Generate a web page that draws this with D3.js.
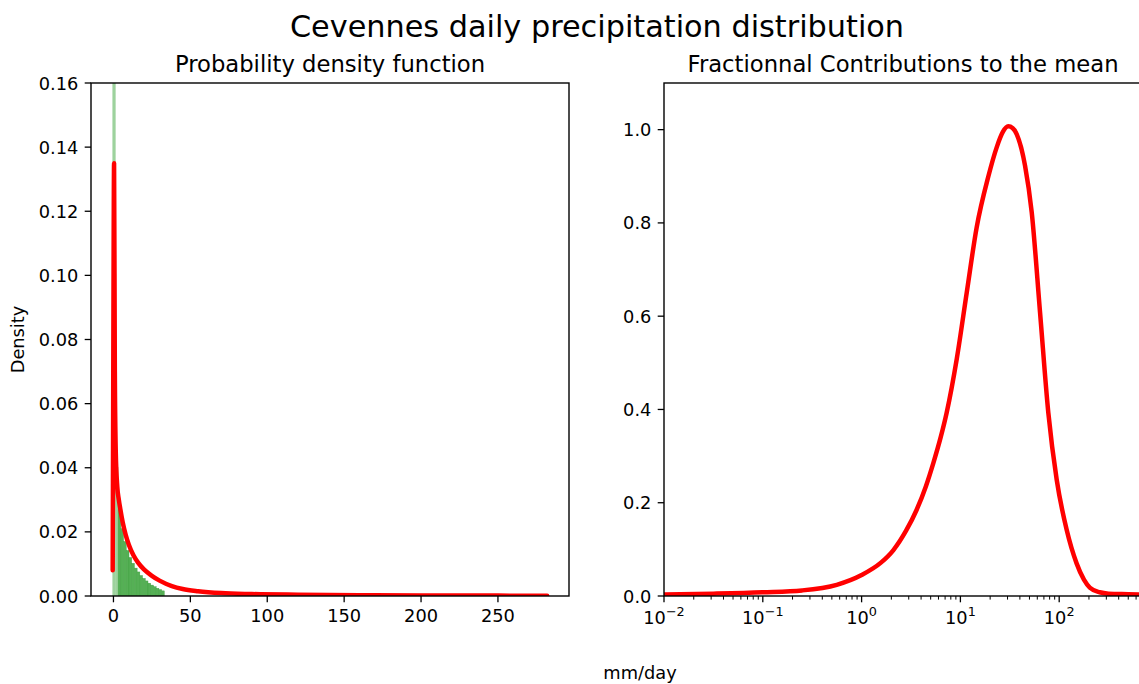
<!DOCTYPE html>
<html lang="en">
<head>
<meta charset="UTF-8">
<title>Cevennes daily precipitation distribution</title>
<script src="https://d3js.org/d3.v7.min.js"></script>
<style>
    body { margin: 0; background: #fff; }
    svg { font-family: "DejaVu Sans", sans-serif; display: block; }
</style>
</head>
<body>
<svg id="chart"></svg>
<script>
// ---- data ----
// histogram bins (mm/day edges) and densities
const histEdges = [-0.5, 1.27, 3.03, 4.8, 6.56, 8.33, 10.1, 11.86, 13.63, 15.4, 17.16, 18.93, 20.7,
                   22.46, 24.23, 26.0, 27.76, 29.53, 31.3, 33.06];
const histDensity = [0.30, 0.040, 0.027, 0.021, 0.017, 0.0142, 0.0120, 0.0102, 0.0087, 0.0075,
                     0.0064, 0.0055, 0.0047, 0.0040, 0.0034, 0.0029, 0.0024, 0.0020, 0.0016];

// fitted pdf (left panel)
const pdfX = [-0.5, 0, 0.4, 0.9, 1.5, 2.5, 3.5, 4.5, 6, 8, 10, 13, 16, 20, 25, 30, 38, 45, 55,
              70, 90, 120, 160, 200, 250, 282];
const pdfY = [0.008, 0.09, 0.135, 0.07, 0.045, 0.034, 0.030, 0.027, 0.023, 0.019, 0.016, 0.0127,
              0.0104, 0.0082, 0.0063, 0.0048, 0.0031, 0.0022, 0.0015, 0.0009, 0.0006, 0.0004,
              0.00025, 0.00018, 0.00012, 0.0001];

// fractional contribution to the mean (right panel)
const contribX = [0.01, 0.0316, 0.1, 0.25, 0.56, 1.0, 1.58, 2.09, 2.82, 3.61, 4.47, 5.32, 6.31,
                  7.26, 9.18, 11.6, 14.6, 19.2, 23.3, 26.9, 30.5, 33.9, 37.2, 45.1, 52.7, 64.0,
                  77.6, 94.4, 119, 150, 178, 204, 257, 316, 500, 794];
const contribY = [0.003, 0.005, 0.008, 0.012, 0.024, 0.045, 0.072, 0.098, 0.14, 0.185, 0.235,
                  0.285, 0.34, 0.393, 0.508, 0.651, 0.790, 0.900, 0.962, 0.995, 1.007, 1.003,
                  0.990, 0.923, 0.823, 0.608, 0.393, 0.249, 0.142, 0.070, 0.035, 0.018, 0.008,
                  0.005, 0.004, 0.003];

const leftYTicks = [0, 0.02, 0.04, 0.06, 0.08, 0.10, 0.12, 0.14, 0.16];
const leftXTicks = [0, 50, 100, 150, 200, 250];
const rightYTicks = [0, 0.2, 0.4, 0.6, 0.8, 1.0];
const rightXExp = [-2, -1, 0, 1, 2];

// ---- layout ----
const W = 1139, H = 684;
const plotTop = 83, plotBottom = 596;
const L = { x0: 91, x1: 569 };
const R = { x0: 664, x1: 1142 };
const tickLen = 6.3, pad = 6.3, fs = 17.8;

const svg = d3.select("#chart").attr("width", W).attr("height", H);
svg.append("rect").attr("width", W).attr("height", H).attr("fill", "#fff");

// scales
const xL = d3.scaleLinear().domain([-14.6, 296.2]).range([L.x0, L.x1]);
const yL = d3.scaleLinear().domain([0, 0.16]).range([plotBottom, plotTop]);
const xR = d3.scaleLog().domain([0.01, Math.pow(10, -2 + (R.x1 - R.x0) / 98.8)]).range([R.x0, R.x1]);
const yR = d3.scaleLinear().domain([0, 1.1]).range([plotBottom, plotTop]);

const defs = svg.append("defs");
defs.append("clipPath").attr("id", "clipL").append("rect")
    .attr("x", L.x0).attr("y", plotTop).attr("width", L.x1 - L.x0).attr("height", plotBottom - plotTop);
defs.append("clipPath").attr("id", "clipR").append("rect")
    .attr("x", R.x0).attr("y", plotTop).attr("width", R.x1 - R.x0).attr("height", plotBottom - plotTop);

// ---- left panel ----
const gL = svg.append("g").attr("clip-path", "url(#clipL)");
const bins = histDensity.map((d, i) => ({ a: histEdges[i], b: histEdges[i + 1], v: d, i }));
gL.selectAll("rect.bar").data(bins).enter().append("rect")
    .attr("class", "bar")
    .attr("x", d => xL(d.a))
    .attr("width", d => xL(d.b) - xL(d.a))
    .attr("y", d => yL(d.v))
    .attr("height", d => yL(0) - yL(d.v))
    .attr("fill", d => d.i < 2 ? "#9dd29d" : "#55b055")
    .attr("stroke", d => d.i < 2 ? "#9dd29d" : "#3f9f3f")
    .attr("stroke-width", 0.4);

const pdfLine = d3.line().x(d => xL(d[0])).y(d => yL(d[1])).curve(d3.curveMonotoneX);
gL.append("path")
    .datum(pdfX.map((x, i) => [x, pdfY[i]]))
    .attr("fill", "none")
    .attr("stroke", "#ff0000")
    .attr("stroke-width", 4.5)
    .attr("stroke-linejoin", "round")
    .attr("stroke-linecap", "round")
    .attr("d", pdfLine);

// frame
svg.append("rect").attr("x", L.x0).attr("y", plotTop).attr("width", L.x1 - L.x0).attr("height", plotBottom - plotTop)
    .attr("fill", "none").attr("stroke", "#000").attr("stroke-width", 1.4);

// left y axis
const ly = svg.append("g").attr("font-size", fs);
leftYTicks.forEach(t => {
    ly.append("line").attr("x1", L.x0).attr("x2", L.x0 - tickLen)
        .attr("y1", yL(t)).attr("y2", yL(t)).attr("stroke", "#000").attr("stroke-width", 1.3);
    ly.append("text").attr("x", L.x0 - tickLen - pad).attr("y", yL(t))
        .attr("text-anchor", "end").attr("dominant-baseline", "central").text(d3.format(".2f")(t));
});
// left x axis
leftXTicks.forEach(t => {
    ly.append("line").attr("x1", xL(t)).attr("x2", xL(t))
        .attr("y1", plotBottom).attr("y2", plotBottom + tickLen).attr("stroke", "#000").attr("stroke-width", 1.3);
    ly.append("text").attr("x", xL(t)).attr("y", plotBottom + tickLen + pad + fs * 0.76)
        .attr("text-anchor", "middle").text(t);
});

svg.append("text").attr("transform", `translate(24,${(plotTop + plotBottom) / 2}) rotate(-90)`)
    .attr("text-anchor", "middle").attr("font-size", fs).text("Density");

svg.append("text").attr("x", (L.x0 + L.x1) / 2).attr("y", 72)
    .attr("text-anchor", "middle").attr("font-size", 22.7).text("Probability density function");

// ---- right panel ----
const gR = svg.append("g").attr("clip-path", "url(#clipR)");
const contribLine = d3.line().x(d => xR(d[0])).y(d => yR(d[1])).curve(d3.curveMonotoneX);
gR.append("path")
    .datum(contribX.map((x, i) => [x, contribY[i]]))
    .attr("fill", "none")
    .attr("stroke", "#ff0000")
    .attr("stroke-width", 4.5)
    .attr("stroke-linejoin", "round")
    .attr("d", contribLine);

svg.append("rect").attr("x", R.x0).attr("y", plotTop).attr("width", R.x1 - R.x0).attr("height", plotBottom - plotTop)
    .attr("fill", "none").attr("stroke", "#000").attr("stroke-width", 1.4);

const ry = svg.append("g").attr("font-size", fs);
rightYTicks.forEach(t => {
    ry.append("line").attr("x1", R.x0).attr("x2", R.x0 - tickLen)
        .attr("y1", yR(t)).attr("y2", yR(t)).attr("stroke", "#000").attr("stroke-width", 1.3);
    ry.append("text").attr("x", R.x0 - tickLen - pad).attr("y", yR(t))
        .attr("text-anchor", "end").attr("dominant-baseline", "central").text(d3.format(".1f")(t));
});
// minor ticks
const dom = xR.domain();
rightXExp.forEach(e => {
    for (let m = 2; m <= 9; m++) {
        const v = m * Math.pow(10, e);
        if (v > dom[1]) continue;
        ry.append("line").attr("x1", xR(v)).attr("x2", xR(v))
            .attr("y1", plotBottom).attr("y2", plotBottom + 3.6).attr("stroke", "#000").attr("stroke-width", 1.0);
    }
});
// major ticks with 10^n labels
rightXExp.forEach(e => {
    const v = Math.pow(10, e);
    ry.append("line").attr("x1", xR(v)).attr("x2", xR(v))
        .attr("y1", plotBottom).attr("y2", plotBottom + tickLen).attr("stroke", "#000").attr("stroke-width", 1.3);
    const t = ry.append("text").attr("x", xR(v)).attr("y", plotBottom + tickLen + pad + fs * 0.86)
        .attr("text-anchor", "middle");
    t.append("tspan").text("10");
    t.append("tspan").attr("dy", -fs * 0.45).attr("font-size", fs * 0.72)
        .text(e < 0 ? "\u2212" + Math.abs(e) : String(e));
});

svg.append("text").attr("x", (R.x0 + R.x1) / 2).attr("y", 72)
    .attr("text-anchor", "middle").attr("font-size", 22.7).text("Fractionnal Contributions to the mean");

// ---- shared labels ----
svg.append("text").attr("x", 640).attr("y", 679)
    .attr("text-anchor", "middle").attr("font-size", fs).text("mm/day");

svg.append("text").attr("x", 597).attr("y", 37)
    .attr("text-anchor", "middle").attr("font-size", 30.3).text("Cevennes daily precipitation distribution");
</script>
</body>
</html>
